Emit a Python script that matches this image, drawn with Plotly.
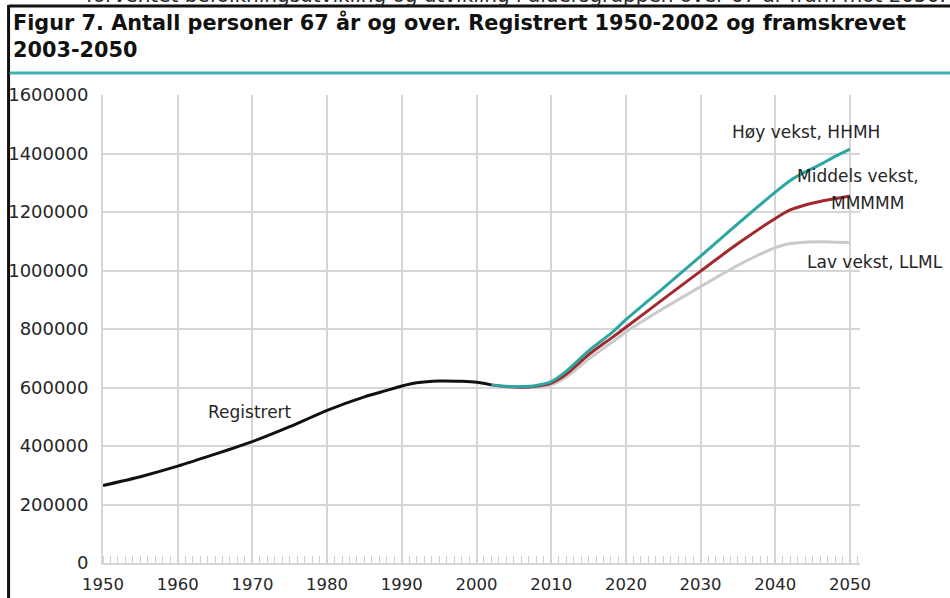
import plotly.graph_objects as go

# ---------------- data ----------------
reg_years = [1950, 1955, 1960, 1965, 1970, 1975, 1980, 1985, 1988, 1990, 1992, 1995, 1998, 2000, 2002]
reg_values = [265000, 295000, 331000, 372000, 415000, 466000, 522000, 568000, 590000, 605000,
              616000, 622000, 621000, 618000, 609000]

proj_years = [2002, 2004, 2006, 2008, 2010, 2012, 2015, 2018, 2020, 2025, 2030, 2035, 2040,
              2042, 2044, 2046, 2048, 2050]
high_values = [609000, 604000, 603000, 607000, 620000, 655000, 725000, 785000, 832000, 940000,
               1049000, 1160000, 1268000, 1308000, 1337000, 1362000, 1390000, 1415000]
mid_values = [609000, 603000, 601000, 604000, 615000, 645000, 712000, 768000, 806000, 902000,
              998000, 1092000, 1178000, 1207000, 1224000, 1236000, 1246000, 1255000]
low_values = [609000, 603000, 600000, 602000, 609000, 635000, 697000, 752000, 790000, 870000,
              945000, 1018000, 1078000, 1092000, 1097000, 1098000, 1097000, 1096000]

x_ticks = [1950, 1960, 1970, 1980, 1990, 2000, 2010, 2020, 2030, 2040, 2050]
y_ticks = [0, 200000, 400000, 600000, 800000, 1000000, 1200000, 1400000, 1600000]

title_line1 = "Figur 7. Antall personer 67 år og over. Registrert 1950-2002 og framskrevet"
title_line2 = "2003-2050"
top_cut_text = "forventet befolkningsutvikling og utvikling i aldersgruppen over 67 år fram mot 2050."

# ---------------- layout geometry ----------------
W, H = 950, 598
L, R, T, B = 102.5, 860, 95, 563
FONT = "DejaVu Sans"
TXT = "#262626"
GRID = "#d6d6d6"


def px(x):
    return (x - L) / (R - L)


def py(y):
    return (B - y) / (B - T)


fig = go.Figure()

fig.add_trace(go.Scatter(x=proj_years, y=low_values, mode="lines",
                         line=dict(color="#cacaca", width=3, shape="spline", smoothing=0.7),
                         hoverinfo="skip", showlegend=False))
fig.add_trace(go.Scatter(x=proj_years, y=mid_values, mode="lines",
                         line=dict(color="#a3282b", width=3, shape="spline", smoothing=0.7),
                         hoverinfo="skip", showlegend=False))
fig.add_trace(go.Scatter(x=proj_years, y=high_values, mode="lines",
                         line=dict(color="#2ba6a3", width=3, shape="spline", smoothing=0.7),
                         hoverinfo="skip", showlegend=False))
fig.add_trace(go.Scatter(x=reg_years, y=reg_values, mode="lines",
                         line=dict(color="#111111", width=3, shape="spline", smoothing=0.6),
                         hoverinfo="skip", showlegend=False))

annotations = [
    dict(text=top_cut_text, x=px(948), y=py(-5), xanchor="right", yanchor="middle",
         font=dict(family=FONT, size=20, color=TXT)),
    dict(text="<b>" + title_line1 + "</b>", x=px(10), y=py(22), xanchor="left", yanchor="middle",
         font=dict(family=FONT, size=20.8, color="#111111")),
    dict(text="<b>" + title_line2 + "</b>", x=px(10), y=py(50), xanchor="left", yanchor="middle",
         font=dict(family=FONT, size=20.8, color="#111111")),
    dict(text="Registrert", x=px(250), y=py(412), xanchor="center", yanchor="middle",
         font=dict(family=FONT, size=17, color=TXT)),
    dict(text="Høy vekst, HHMH", x=px(730), y=py(132), xanchor="left", yanchor="middle",
         font=dict(family=FONT, size=17, color=TXT)),
    dict(text="Middels vekst,", x=px(795), y=py(176), xanchor="left", yanchor="middle",
         font=dict(family=FONT, size=17, color=TXT)),
    dict(text="MMMMM", x=px(829), y=py(203), xanchor="left", yanchor="middle",
         font=dict(family=FONT, size=17, color=TXT)),
    dict(text="Lav vekst, LLML", x=px(805), y=py(262), xanchor="left", yanchor="middle",
         font=dict(family=FONT, size=17, color=TXT)),
]
for a in annotations:
    a.update(xref="paper", yref="paper", showarrow=False)

shapes = [
    # black frame (top + left)
    dict(type="line", x0=px(8), x1=px(960), y0=py(6), y1=py(6), line=dict(color="#111111", width=3)),
    dict(type="line", x0=px(8), x1=px(8), y0=py(5), y1=py(610), line=dict(color="#111111", width=3)),
    # teal rule under the title
    dict(type="line", x0=px(9), x1=px(960), y0=py(73), y1=py(73), line=dict(color="#3ab4b0", width=3)),
]
for s in shapes:
    s.update(xref="paper", yref="paper", layer="above")

fig.update_layout(
    width=W, height=H,
    margin=dict(l=L, r=W - R, t=T, b=H - B, pad=0, autoexpand=False),
    paper_bgcolor="white", plot_bgcolor="white",
    annotations=annotations, shapes=shapes,
    showlegend=False,
)

fig.update_xaxes(
    range=[1950, 1950 + (R - L) / 7.475], tickvals=x_ticks, ticktext=[str(v) for v in x_ticks],
    showgrid=True, gridcolor=GRID, gridwidth=1.5,
    showline=True, linecolor=GRID, linewidth=2,
    ticks="", ticklabelstandoff=5, automargin=False,
    minor=dict(ticks="inside", dtick=1, tick0=1950, ticklen=7, tickcolor="#cfcfcf", tickwidth=1, showgrid=False),
    tickfont=dict(family=FONT, size=16.5, color=TXT), zeroline=False,
)
fig.update_yaxes(
    range=[0, 1600000], tickvals=y_ticks, ticktext=[str(v) for v in y_ticks],
    showgrid=True, gridcolor=GRID, gridwidth=1.5,
    showline=True, linecolor=GRID, linewidth=2,
    ticks="", ticklabelstandoff=9, automargin=False,
    tickfont=dict(family=FONT, size=18, color=TXT), zeroline=False,
)

fig.write_html("out.html", config={"displayModeBar": False},
               post_script="document.body.style.margin='0px';")
